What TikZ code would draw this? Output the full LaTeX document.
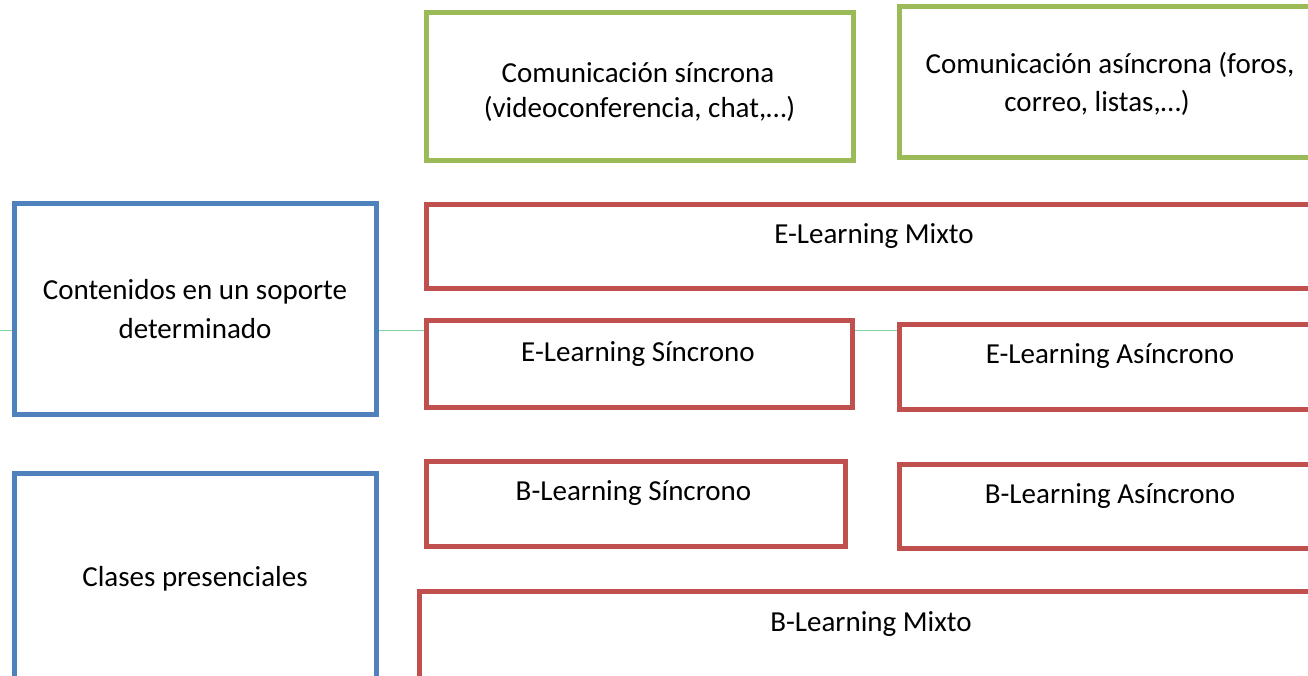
\documentclass[tikz,border=0pt]{standalone}
\usepackage{fontspec}
\setmainfont{Carlito}
\usetikzlibrary{backgrounds}
\definecolor{boxgreen}{HTML}{9BBB59}
\definecolor{boxblue}{HTML}{4F81BD}
\definecolor{boxred}{HTML}{C0504D}
\definecolor{linegreen}{RGB}{128,212,160}
\tikzset{
  box/.style={draw, line width=5pt, fill=white, rectangle, inner sep=0pt, outer sep=0pt},
  gbox/.style={box, draw=boxgreen},
  bbox/.style={box, draw=boxblue},
  rbox/.style={box, draw=boxred},
  txt/.style={anchor=base, inner sep=0pt, font=\fontsize{29pt}{35pt}\selectfont, text=black},
  thinline/.style={draw=linegreen, line width=1pt}
}
\begin{document}
\begin{tikzpicture}[x=1pt, y=-1pt]
\useasboundingbox (0,0) rectangle (1308,675);
\begin{scope}
\clip (0,0) rectangle (1308,675);
% boxes
\node[gbox, minimum width=427pt, minimum height=148pt] (csin) at (639.5,86) {};
\node[gbox, minimum width=424pt, minimum height=151.5pt] (casin) at (1111,81.75) {};
\node[bbox, minimum width=362pt, minimum height=211pt] (cont) at (195,308.5) {};
\node[bbox, minimum width=362pt, minimum height=226.5pt] (clases) at (195,586.75) {};
\node[rbox, minimum width=897pt, minimum height=84pt] (emix) at (874.5,246) {};
\node[rbox, minimum width=426pt, minimum height=87pt] (esin) at (639,363.5) {};
\node[rbox, minimum width=424pt, minimum height=85pt] (easin) at (1111,366.5) {};
\node[rbox, minimum width=419pt, minimum height=85pt] (bsin) at (635.5,503.5) {};
\node[rbox, minimum width=424pt, minimum height=84pt] (basin) at (1111,506) {};
\node[rbox, minimum width=904pt, minimum height=109pt] (bmix) at (871,645.5) {};
% texts
\node[txt] (t1a) at (638,82) {Comunicación síncrona};
\node[txt] (t1b) at (639.5,117) {(videoconferencia, chat,…)};
\node[txt] (t2a) at (1110,73) {Comunicación asíncrona (foros,};
\node[txt] (t2b) at (1097,111) {correo, listas,…)};
\node[txt] (t3a) at (195,299) {Contenidos en un soporte};
\node[txt] (t3b) at (195,338) {determinado};
\node[txt] (t4) at (195,586) {Clases presenciales};
\node[txt] (t5) at (874,243) {E-Learning Mixto};
\node[txt] (t6) at (638,361) {E-Learning Síncrono};
\node[txt] (t7) at (1110,363) {E-Learning Asíncrono};
\node[txt] (t8) at (633.5,500) {B-Learning Síncrono};
\node[txt] (t9) at (1110,503) {B-Learning Asíncrono};
\node[txt] (t10) at (871,631) {B-Learning Mixto};
\coordinate (lstart) at (0,330);
\end{scope}
\begin{scope}[on background layer]
\draw[thinline] (lstart) -- (lstart -| easin.west);
\end{scope}
\end{tikzpicture}
\end{document}
